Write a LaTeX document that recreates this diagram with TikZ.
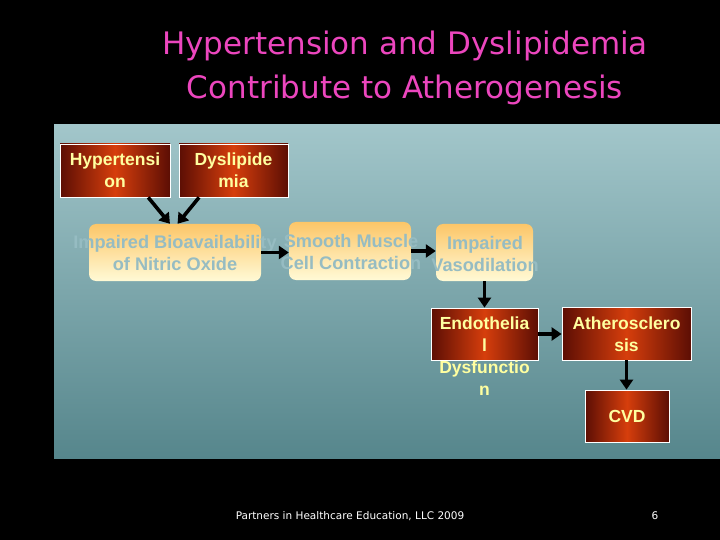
\documentclass[tikz,border=0pt]{standalone}
\usepackage{fontspec}
\setmainfont{Liberation Sans}
\newfontfamily\titlefont{DejaVu Sans}
\usetikzlibrary{arrows.meta}
\definecolor{panelTop}{RGB}{162,198,202}
\definecolor{panelBot}{RGB}{86,134,140}
\definecolor{redEdge}{RGB}{92,14,4}
\definecolor{redMid}{RGB}{214,62,12}
\definecolor{orangeTop}{RGB}{252,198,104}
\definecolor{orangeBot}{RGB}{255,250,214}
\definecolor{yellowTxt}{RGB}{255,255,160}
\definecolor{tealTxt}{RGB}{150,188,194}
\definecolor{titlePink}{RGB}{236,70,190}
\def\fs{\fontsize{17.5}{22}\selectfont\bfseries}
\def\fo{\fontsize{18.2}{22}\selectfont\bfseries}

\begin{document}
\begin{tikzpicture}[x=1pt, y=-1pt,
  redbox/.style={draw=white, line width=0.8pt, left color=redEdge, right color=redEdge, middle color=redMid},
  orangebox/.style={rounded corners=7pt, top color=orangeTop, bottom color=orangeBot},
  redtxt/.style={text=yellowTxt, align=center, font=\fs},
  orangetxt/.style={text=tealTxt, align=center, font=\fo},
  arr/.style={line width=3.6pt, -{Triangle[length=10pt,width=13pt]}}]
  \fill[black] (0,0) rectangle (720,540);
  \shade[top color=panelTop, bottom color=panelBot] (54,125) rectangle (720,458);

  \node[text=titlePink, font=\titlefont\fontsize{31}{44}\selectfont, align=center] (title) at (405,68)
    {Hypertension and Dyslipidemia\\Contribute to Atherogenesis};

  \node[redbox, minimum width=110, minimum height=53] (hyp) at (115,170.5) {};
  \node[redtxt] (hyptxt) at (115,170) {Hypertensi\\on};
  \node[redbox, minimum width=109, minimum height=53] (dys) at (233.5,170.5) {};
  \node[redtxt] (dystxt) at (233.5,170) {Dyslipide\\mia};

  \node[orangebox, minimum width=172, minimum height=57] (bio) at (175,252.5) {};
  \node[orangetxt] (biotxt) at (175,253) {Impaired Bioavailability\\of Nitric Oxide};
  \node[orangebox, minimum width=122, minimum height=58] (smc) at (350,251) {};
  \node[orangetxt] (smctxt) at (351,252) {Smooth Muscle\\Cell Contraction};
  \node[orangebox, minimum width=97, minimum height=57] (vaso) at (484.5,252.5) {};
  \node[orangetxt] (vasotxt) at (485,254) {Impaired\\Vasodilation};

  \node[redbox, minimum width=107, minimum height=52] (endo) at (484.5,334) {};
  \node[redtxt, anchor=north] (endotxt) at (484.5,313.5) {Endothelia\\l\\Dysfunctio\\n};
  \node[redbox, minimum width=129, minimum height=53] (ath) at (626.5,333.5) {};
  \node[redtxt] (athtxt) at (626.5,334) {Atherosclero\\sis};
  \node[redbox, minimum width=84, minimum height=52] (cvd) at (627,416) {};
  \node[redtxt] (cvdtxt) at (627,416) {CVD};

  \draw[arr] (hyp.-39) -- (bio.100);
  \draw[arr] (dys.218) -- (bio.85);
  \draw[arr] (bio.east) -- (bio.east -| smc.west);
  \draw[arr] (smc.east) -- (smc.east -| vaso.west);
  \draw[arr] (vaso.south) -- (endo.north);
  \draw[arr] (endo.east) -- (endo.east -| ath.west);
  \draw[arr] (ath.south) -- (ath.south |- cvd.north);

  \node[text=white, font=\titlefont\fontsize{10.5}{12}\selectfont] (foot) at (350,516) {Partners in Healthcare Education, LLC 2009};
  \node[text=white, font=\titlefont\fontsize{10.5}{12}\selectfont] (page) at (655,516) {6};
\end{tikzpicture}
\end{document}
